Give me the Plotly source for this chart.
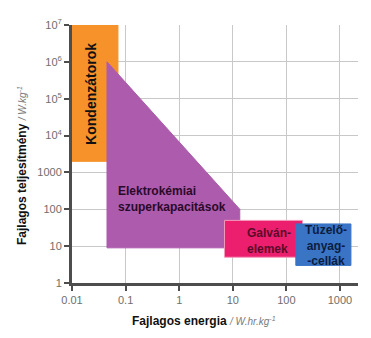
import math
import plotly.graph_objects as go

# Ragone plot: regions given by corner points (specific energy W.hr/kg, specific power W/kg)
capacitor_energy = [0.01, 0.072, 0.072, 0.01]
capacitor_power = [1e7, 1e7, 2000, 2000]

supercap_energy = [0.045, 13.5, 13.5, 0.045]
supercap_power = [1e6, 100, 9, 9]

battery_energy = [7, 200, 200, 7]
battery_power = [50, 50, 5, 5]

fuelcell_energy = [150, 1600, 1600, 150]
fuelcell_power = [40, 40, 3, 3]

x_tickvals = [0.01, 0.1, 1, 10, 100, 1000]
x_ticktext = ["0.01", "0.1", "1", "10", "100", "1000"]
y_tickvals = [1, 10, 100, 1000, 1e4, 1e5, 1e6, 1e7]
y_ticktext = ["1", "10", "100", "1000", "10<sup>4</sup>", "10<sup>5</sup>",
              "10<sup>6</sup>", "10<sup>7</sup>"]

FONT = "Liberation Sans, Arial, sans-serif"

fig = go.Figure()

regions = [
    (capacitor_energy, capacitor_power, "#F7922A", "#F7922A"),
    (supercap_energy, supercap_power, "#AD5BAC", "#AD5BAC"),
    (battery_energy, battery_power, "#EC1E6E", "#F49AB8"),
    (fuelcell_energy, fuelcell_power, "#3A74C5", "#3A74C5"),
]
for xs, ys, color, edge in regions:
    fig.add_trace(go.Scatter(
        x=xs + xs[:1], y=ys + ys[:1], mode="lines", fill="toself",
        fillcolor=color, line=dict(width=1, color=edge),
        hoverinfo="skip", showlegend=False,
    ))


def lg(v):
    return math.log10(v)


annotations = [
    dict(x=lg(0.0226), y=lg(1.35e5), text="<b>Kondenzátorok</b>", textangle=-90,
         font=dict(size=14, color="#111111"), showarrow=False,
         xanchor="center", yanchor="middle"),
    dict(x=lg(0.066), y=lg(185), text="<b>Elektrokémiai<br>szuperkapacitások</b>",
         font=dict(size=12, color="#2a0a2a"), showarrow=False, align="left",
         xanchor="left", yanchor="middle"),
    dict(x=lg(16.9), y=lg(13.8), text="<b>Galván-<br>elemek</b>",
         font=dict(size=12, color="#5b0b2a"), showarrow=False, align="left",
         xanchor="left", yanchor="middle"),
    dict(x=lg(548), y=lg(10.7), text="<b>Tüzelő-<br>anyag-<br>-cellák</b>",
         font=dict(size=12, color="#0c1d40"), showarrow=False, align="center",
         xanchor="center", yanchor="middle"),
    dict(xref="paper", yref="paper", x=0.463, y=-0.147,
         text="<b>Fajlagos energia</b> <span style='color:#7a7a7a;font-size:10px'>"
              "<i>/ W.hr.kg<sup>-1</sup></i></span>",
         font=dict(size=12, color="#111111"), showarrow=False,
         xanchor="center", yanchor="middle"),
    dict(xref="paper", yref="paper", x=-0.175, y=0.457, textangle=-90,
         text="<b>Fajlagos teljesítmény</b> <span style='color:#7a7a7a;font-size:10px'>"
              "<i>/ W.kg<sup>-1</sup></i></span>",
         font=dict(size=12, color="#111111"), showarrow=False,
         xanchor="center", yanchor="middle"),
]

axis_common = dict(
    type="log", showgrid=True, gridcolor="#c8c8c8", gridwidth=1,
    showline=True, linecolor="#4d4d4d", linewidth=3,
    ticks="outside", ticklen=5, tickwidth=2, tickcolor="#4d4d4d",
    tickfont=dict(family=FONT, size=11, color="#6e6e6e"),
    zeroline=False, fixedrange=True,
)

fig.update_layout(
    width=371, height=338,
    margin=dict(l=72, r=13, t=25, b=55),
    paper_bgcolor="white", plot_bgcolor="white",
    font=dict(family=FONT),
    xaxis=dict(axis_common, range=[-2, 3.336], tickvals=x_tickvals, ticktext=x_ticktext),
    yaxis=dict(axis_common, range=[0, 7], tickvals=y_tickvals, ticktext=y_ticktext),
    annotations=annotations,
    showlegend=False,
)

fig.write_html("out.html")
